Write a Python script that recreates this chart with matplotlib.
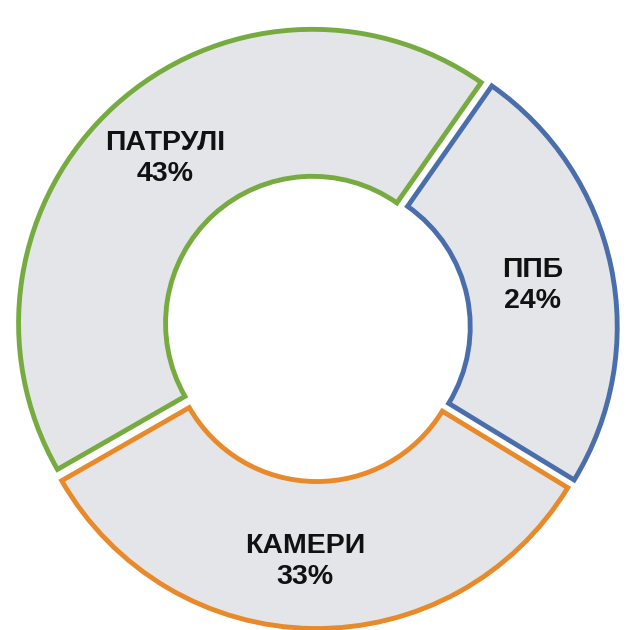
import matplotlib.pyplot as plt

labels = ["ППБ", "КАМЕРИ", "ПАТРУЛІ"]
shares = [24, 33, 43]
edge_colors = ["#4a6eab", "#e8892a", "#76ab3f"]

plt.rcParams["font.family"] = ["Liberation Sans", "DejaVu Sans"]

fig = plt.figure(figsize=(6.35, 6.3), dpi=100)
ax = fig.add_axes([0, 0, 1, 1])

wedges, _ = ax.pie(
    shares,
    startangle=55,
    counterclock=False,
    radius=1.0,
    explode=[0.022] * len(shares),
    wedgeprops=dict(width=0.5, facecolor="#e4e5e8", linewidth=3.5),
)
for w, c in zip(wedges, edge_colors):
    w.set_edgecolor(c)

# label positions (data units, radius = 1)
label_pos = [(0.735, 0.146), (-0.041, -0.793), (-0.517, 0.578)]
for (x, y), name, v in zip(label_pos, labels, shares):
    ax.text(x, y, f"{name}\n{v}%", ha="center", va="center",
            fontsize=20.5, fontweight="bold", color="#111111", linespacing=1.25)

ax.set_xlim(-1.078, 1.082)
ax.set_ylim(-1.027, 1.116)
ax.set_aspect("auto")
ax.axis("off")

fig.savefig("out.png", dpi=100, facecolor="white")
